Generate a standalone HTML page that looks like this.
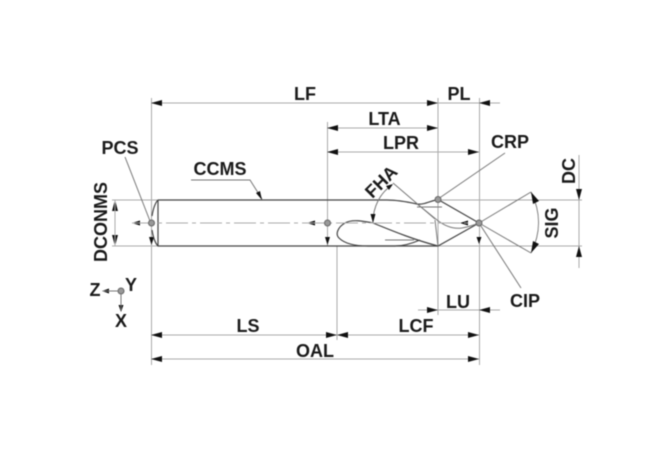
<!DOCTYPE html>
<html><head><meta charset="utf-8"><style>
html,body{margin:0;padding:0;background:#fff;width:670px;height:460px;overflow:hidden}
svg{display:block;filter:blur(0.4px)}
text{font-family:"Liberation Sans",sans-serif;font-weight:bold;font-size:18px;fill:#1a1a1a;text-anchor:middle}
.g{stroke:#aaa;stroke-width:1;fill:none}
.d{stroke:#444;stroke-width:1.2;fill:none}
.t{stroke:#777;stroke-width:1;fill:none}
.a{fill:#111;stroke:none}
.c{fill:#999;stroke:#666;stroke-width:1}
</style></head><body>
<svg width="670" height="460" viewBox="0 0 670 460" xmlns="http://www.w3.org/2000/svg">
<!-- extension lines -->
<path class="g" d="M151.500 98V365M327.500 122V246M337 246V340M438 98V315M479.500 98V365M112 200H158M112 246H158M438 200H582M438 246H582"/>
<!-- dimension lines -->
<path class="g" d="M151 103H438M438 103H500M327 128H438M327 152H479M418 310H500M151 335H479M151 359H479M579 155V268"/>
<!-- arrows -->
<g class="a">
<path d="M151 103l11-3v6zM438 103l-11-3v6zM479 103l11-3v6z"/>
<path d="M327 128l11-3v6zM438 128l-11-3v6z"/>
<path d="M327 152l11-3v6zM479 152l-11-3v6z"/>
<path d="M438 310l-11-3v6zM479 310l11-3v6z"/>
<path d="M151 335l11-3v6zM337 335l-11-3v6zM337 335l11-3v6zM479 335l-11-3v6z"/>
<path d="M151 359l11-3v6zM479 359l-11-3v6z"/>
<path d="M579 200l-3-11h6zM579 246l-3 11h6z"/>
<path d="M115 200l-3 11h6zM115 246l-3-11h6z"/>
<path d="M132 223l8-2.500v5zM307 223l8-2.500v5zM460 223l8-2.500v5z"/>
<path d="M327.500 245l-2.500-8h5zM151.500 245l-2.500-8h5zM479 244l-2.500-7h5z"/>
<path d="M102 291l7-2.500v5z"/>
<path d="M121 312l-2.500-7h5z"/>
</g>
<path class="g" d="M115 200V246"/>
<!-- tool body -->
<path class="d" d="M158 200H387C398 200 408 202 417 204C424 205 430 201 438 199.500L479 223L438 246H158C155 243 153 236 152 230M158 200C155 203 153 210 152 216M158 200V246"/>
<path class="d" d="M373 223C363 221 352 219 345 223C338 227 335 234 339 238C345 244 355 246 368 246H395C405 246 413 243 420 240M373 223C395 232 415 240 438 246"/>
<path class="t" d="M417 204C425 210 432 216 437 220C446 227 455 229 462 228C468 227 474 225 479 223M435 220L438 246M385 240H414M417 207H442"/>
<!-- centerline -->
<path class="g" stroke-dasharray="22 4 4 4" d="M132 223H470"/>
<!-- leaders -->
<path class="t" d="M125 157L150 221M191 180H250L262 199M393 183L435 219M438 199L505 153M479 223L531 192M479 223L531 253M479 223L521 288"/>
<path class="a" d="M262 200l-6-7 4-2z"/>
<!-- FHA arc -->
<path class="t" d="M392 185C380 193 373 207 373 222"/>
<path class="a" d="M373 223l-2.500-9h5zM393 184l-7 2 3 4z"/>
<!-- SIG arc -->
<path class="t" d="M531 192C541 212 541 233 531 253"/>
<path class="a" d="M531 192l8 9-6 3zM531 253l8-9-6-3z"/>
<!-- points -->
<circle class="c" cx="151.500" cy="223" r="3"/>
<circle class="c" cx="327.500" cy="223" r="3"/>
<circle class="c" cx="438" cy="199.500" r="3"/>
<circle class="c" cx="479" cy="223" r="3"/>
<circle class="c" cx="121" cy="291" r="3"/>
<path class="t" d="M103 291H118M121 294V310"/>
<!-- labels -->
<text x="305" y="100">LF</text>
<text x="459" y="100">PL</text>
<text x="384.500" y="125">LTA</text>
<text x="401" y="149">LPR</text>
<text x="120" y="154">PCS</text>
<text x="220" y="175">CCMS</text>
<text x="510" y="148">CRP</text>
<text x="525" y="307">CIP</text>
<text x="458" y="308">LU</text>
<text x="248" y="332">LS</text>
<text x="416" y="332">LCF</text>
<text x="315" y="357">OAL</text>
<text x="95" y="296">Z</text>
<text x="131" y="291">Y</text>
<text x="121" y="327">X</text>
<text transform="translate(107 222) rotate(-90)">DCONMS</text>
<text transform="translate(575 171) rotate(-90)">DC</text>
<text transform="translate(558 223) rotate(-90)">SIG</text>
<text transform="translate(385.500 186) rotate(-45)">FHA</text>
</svg>
</body></html>
